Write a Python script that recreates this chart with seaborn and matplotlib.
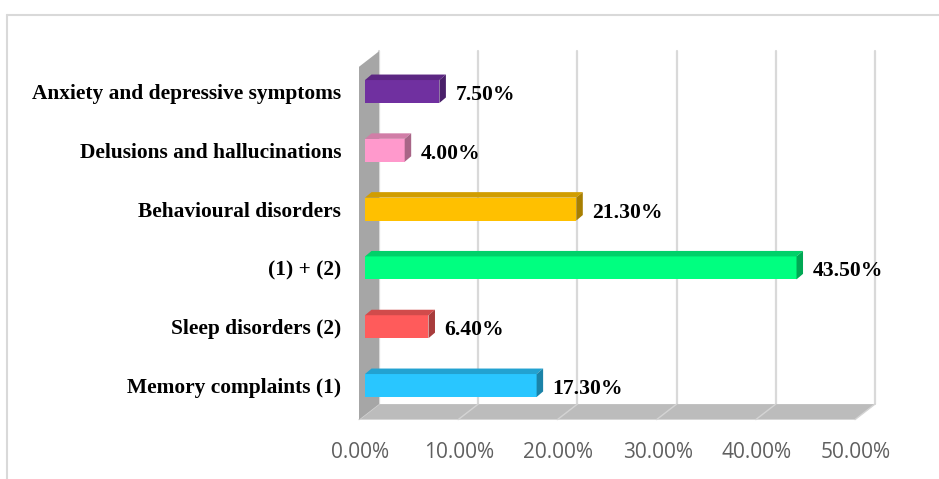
import matplotlib
matplotlib.use("Agg")
import matplotlib.pyplot as plt
import matplotlib.transforms as mtransforms
from matplotlib.patches import Polygon
from matplotlib.lines import Line2D
import numpy as np
import pandas as pd
import seaborn as sns

# ---- data ----
categories = [
    "Anxiety and depressive symptoms",
    "Delusions and hallucinations",
    "Behavioural disorders",
    "(1) + (2)",
    "Sleep disorders (2)",
    "Memory complaints (1)",
]
percentages = [7.5, 4.0, 21.3, 43.5, 6.4, 17.3]
bar_colors = ["#7030a0", "#ff99cc", "#ffc000", "#00ff80", "#ff5b5b", "#29c6ff"]
x_ticks = [0, 10, 20, 30, 40, 50]
x_tick_labels = ["0.00%", "10.00%", "20.00%", "30.00%", "40.00%", "50.00%"]

# ---- figure ----
sns.set_theme(style="white")
plt.rcParams["font.family"] = ["DejaVu Sans"]

W, H, DPI = 939, 479, 100
fig = plt.figure(figsize=(W / DPI, H / DPI), dpi=DPI)
fig.patch.set_facecolor("white")

# axes placed so the bar front plane spans 0..50 %
x_left_px, x_right_px = 365, 861
y_top_px, y_bot_px = 40, 420
ax = fig.add_axes([x_left_px / W, 1 - y_bot_px / H,
                   (x_right_px - x_left_px) / W, (y_bot_px - y_top_px) / H])
ax.set_facecolor("none")

df = pd.DataFrame({"category": categories, "value": percentages})
sns.barplot(data=df, x="value", y="category", hue="category",
            palette=bar_colors, orient="h", width=0.39,
            linewidth=0, saturation=1, legend=False, ax=ax, zorder=5)

px_per_x = (x_right_px - x_left_px) / 50.0
row_px = 58.8
cat0_px = 91.5
ax.set_xlim(0, 50)
ax.set_ylim((y_bot_px - cat0_px) / row_px, (y_top_px - cat0_px) / row_px)


def off(dx_px, dy_px):
    """pixel offset (right, up) expressed in data units"""
    return dx_px / px_per_x, -dy_px / row_px


# box geometry relative to the bar front plane
front_dx, front_dy = off(-6, -4.7)      # front edge of floor / wall
back_dx, back_dy = off(14, 10.8)        # back wall plane
bar_dx, bar_dy = off(6.5, 5.5)          # bar depth
floor_y = 5.5
top_y = -0.5

wall_color = "#a6a6a6"
floor_color = "#bcbcbc"
grid_color = "#d9d9d9"

# back-wall gridlines
for t in x_ticks:
    ax.add_line(Line2D([t + back_dx, t + back_dx],
                       [floor_y + back_dy, top_y + back_dy],
                       color=grid_color, lw=1.6, zorder=1, clip_on=False))

# floor
floor = Polygon([(0 + front_dx, floor_y + front_dy), (50 + front_dx, floor_y + front_dy),
                 (50 + back_dx, floor_y + back_dy), (0 + back_dx, floor_y + back_dy)],
                closed=True, facecolor=floor_color, edgecolor="none",
                zorder=2, clip_on=False)
ax.add_patch(floor)
for t in x_ticks:
    ax.add_line(Line2D([t + front_dx, t + back_dx],
                       [floor_y + front_dy, floor_y + back_dy],
                       color="#d4d4d4", lw=1.0, zorder=2.5, clip_on=False))

# left side wall
wall = Polygon([(0 + front_dx, floor_y + front_dy), (0 + front_dx, top_y + front_dy),
                (0 + back_dx, top_y + back_dy), (0 + back_dx, floor_y + back_dy)],
               closed=True, facecolor=wall_color, edgecolor="none",
               zorder=3, clip_on=False)
ax.add_patch(wall)


def shade(hex_color, k):
    r, g, b = matplotlib.colors.to_rgb(hex_color)
    return (r * k, g * k, b * k)


# 3D top and side faces of each bar, plus value labels
for patch, color, val in zip(ax.patches, bar_colors, percentages):
    x0 = patch.get_x()
    x1 = x0 + patch.get_width()
    ya = patch.get_y()
    yb = ya + patch.get_height()
    ytop, ybot = min(ya, yb), max(ya, yb)
    top = Polygon([(x0, ytop), (x1, ytop), (x1 + bar_dx, ytop + bar_dy),
                   (x0 + bar_dx, ytop + bar_dy)], closed=True,
                  facecolor=shade(color, 0.82), edgecolor="none", zorder=6, clip_on=False)
    side = Polygon([(x1, ytop), (x1 + bar_dx, ytop + bar_dy),
                    (x1 + bar_dx, ybot + bar_dy), (x1, ybot)], closed=True,
                   facecolor=shade(color, 0.66), edgecolor="none", zorder=6, clip_on=False)
    ax.add_patch(top)
    ax.add_patch(side)
    ax.annotate(f"{val:.2f}%", xy=(x1, (ytop + ybot) / 2), xytext=(16, -1),
                textcoords="offset pixels", ha="left", va="center_baseline",
                fontsize=15.6, fontweight="bold", family="Liberation Serif",
                color="black", zorder=7, annotation_clip=False)

# category labels
ax.set_ylabel("")
ax.set_xlabel("")
ax.tick_params(axis="y", length=0, pad=24 * 72 / DPI)
for lab in ax.get_yticklabels():
    lab.set_fontfamily("Liberation Serif")
    lab.set_fontweight("bold")
    lab.set_fontsize(15.4)
    lab.set_color("black")

# value axis labels under the floor front edge
ax.set_xticks(x_ticks)
ax.set_xticklabels(x_tick_labels)
ax.tick_params(axis="x", length=0, pad=16, labelsize=15, labelcolor="#606060")
shift = mtransforms.ScaledTranslation(-5 / DPI, 0, fig.dpi_scale_trans)
for lab in ax.get_xticklabels():
    lab.set_fontfamily("Open Sans")
    lab.set_transform(lab.get_transform() + shift)

for s in ax.spines.values():
    s.set_visible(False)
ax.grid(False)

# outer chart frame (top and left edges)
fig.add_artist(Line2D([7 / W, 1.0], [1 - 15 / H, 1 - 15 / H],
                      transform=fig.transFigure, color="#d9d9d9", lw=1.5))
fig.add_artist(Line2D([7 / W, 7 / W], [1 - 15 / H, 0.0],
                      transform=fig.transFigure, color="#d9d9d9", lw=1.5))

fig.savefig("out.png", dpi=DPI, facecolor="white")
